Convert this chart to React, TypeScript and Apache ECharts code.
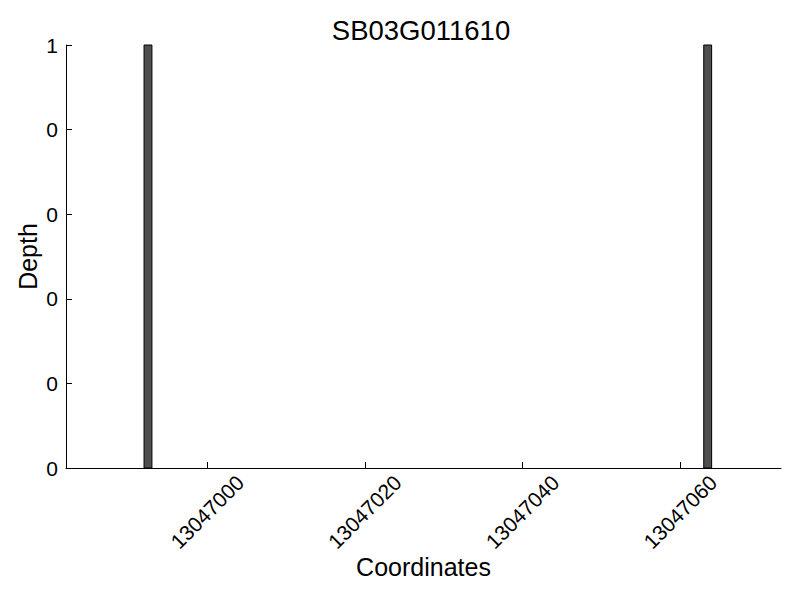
import React, { useEffect, useRef } from "react";
import * as echarts from "echarts";

const title = "SB03G011610";
const barStarts = [13046992, 13047063];
const barEnds = [13046993, 13047064];
const depths = [1, 1];
const xTicks = [13047000, 13047020, 13047040, 13047060];
const yTicks = [0, 0.2, 0.4, 0.6, 0.8, 1];

export default function App() {
  const ref = useRef<HTMLDivElement>(null);
  useEffect(() => {
    if (!ref.current) return;
    const chart = echarts.init(ref.current, null, { renderer: "svg" });
    const font = "Liberation Sans";
    const data = barStarts.map((s, i) => [s, barEnds[i], depths[i]]);
    chart.setOption({
      animation: false,
      backgroundColor: "#ffffff",
      textStyle: { fontFamily: font },
      title: {
        text: title,
        left: 416,
        top: 11,
        textAlign: "center",
        textStyle: { fontSize: 27.5, fontWeight: "normal", color: "#000", fontFamily: font },
      },
      grid: { left: 66, right: 19, top: 45, bottom: 132, containLabel: false },
      xAxis: {
        type: "value",
        min: 13046982.1,
        max: 13047072.8,
        name: "Coordinates",
        nameLocation: "middle",
        nameGap: 86,
        nameMoveOverlap: false,
        nameTextStyle: { fontSize: 25, color: "#000", fontFamily: font },
        axisLine: { show: true, lineStyle: { color: "#000", width: 1 } },
        axisTick: { show: true, inside: true, length: 6, customValues: xTicks, lineStyle: { color: "#000" } },
        axisLabel: {
          customValues: xTicks,
          rotate: 45,
          align: "center",
          verticalAlign: "middle",
          margin: 44,
          fontSize: 21,
          color: "#000",
          fontFamily: font,
          formatter: (v: number) => String(Math.round(v)),
        },
        splitLine: { show: false },
      },
      yAxis: {
        type: "value",
        min: 0,
        max: 1,
        interval: 0.2,
        name: "Depth",
        nameLocation: "middle",
        nameGap: 26,
        nameMoveOverlap: false,
        nameTextStyle: { fontSize: 25, color: "#000", fontFamily: font },
        axisLine: { show: true, lineStyle: { color: "#000", width: 1 } },
        axisTick: { show: true, inside: true, length: 6, lineStyle: { color: "#000" } },
        axisLabel: {
          fontSize: 21,
          color: "#000",
          margin: 8,
          fontFamily: font,
          formatter: (v: number) => String(Math.floor(v + 1e-9)),
        },
        splitLine: { show: false },
      },
      series: [
        {
          type: "custom",
          data,
          encode: { x: [0, 1], y: 2 },
          renderItem: (params: any, api: any) => {
            const p0 = api.coord([api.value(0), api.value(2)]);
            const p1 = api.coord([api.value(1), 0]);
            return {
              type: "rect",
              shape: { x: p0[0], y: p0[1], width: p1[0] - p0[0], height: p1[1] - p0[1] },
              style: { fill: "#4f4f4f", stroke: "#000", lineWidth: 1 },
            };
          },
        },
      ],
    });
    return () => chart.dispose();
  }, []);
  return <div ref={ref} style={{ width: 800, height: 600, position: "absolute", left: 0, top: 0 }} />;
}
